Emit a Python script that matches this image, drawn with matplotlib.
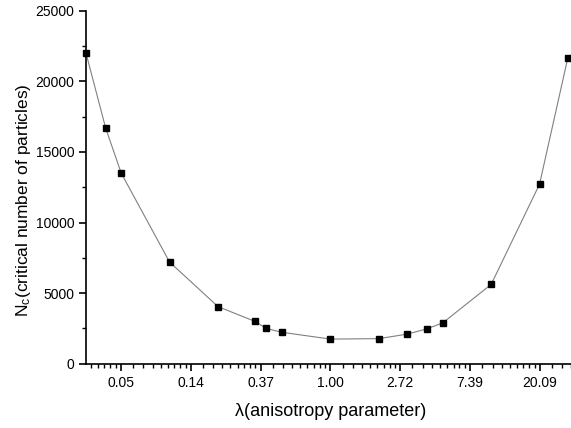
import numpy as np
import matplotlib
matplotlib.use('Agg')
import matplotlib.pyplot as plt
from matplotlib.ticker import LogLocator, FuncFormatter, MultipleLocator, NullFormatter

plt.rcParams['font.family'] = ['Liberation Sans', 'DejaVu Sans']
plt.rcParams['mathtext.fontset'] = 'custom'
plt.rcParams['mathtext.rm'] = 'Liberation Sans'
plt.rcParams['mathtext.default'] = 'regular'

# data
lam = [0.0302, 0.04, 0.05, 0.1, 0.2, 0.34, 0.4, 0.5, 1, 2, 3, 4, 5, 10, 20, 30]
nc = [22000, 16700, 13500, 7200, 4050, 3000, 2500, 2230, 1750, 1780,
      2100, 2480, 2900, 5620, 12720, 21680]

fig = plt.figure(figsize=(5.71, 4.28), dpi=100)
ax = fig.add_axes([0.1506, 0.150, 0.856, 0.825])

ax.plot(lam, nc, color='#808080', lw=0.8, zorder=1)
ax.plot(lam, nc, 's', color='black', ms=5, zorder=2, clip_on=False)

ax.set_xscale('log', base=np.e)
ax.set_xlim(np.exp(-3.5), np.exp(3.5))
ax.set_ylim(0, 25000)

ax.xaxis.set_major_locator(LogLocator(base=np.e))
ax.xaxis.set_major_formatter(FuncFormatter(lambda v, p: f"{v:.2f}"))
subs = 1 + (np.e - 1) * np.arange(1, 9) / 9
ax.xaxis.set_minor_locator(LogLocator(base=np.e, subs=subs, numticks=50))
ax.xaxis.set_minor_formatter(NullFormatter())

ax.yaxis.set_major_locator(MultipleLocator(5000))
ax.yaxis.set_minor_locator(MultipleLocator(2500))

for s in ['top', 'right']:
    ax.spines[s].set_visible(False)
for s in ['left', 'bottom']:
    ax.spines[s].set_linewidth(1.2)

ax.tick_params(which='major', direction='out', length=5, width=1.2, labelsize=10)
ax.tick_params(which='minor', direction='out', length=3, width=1.0)

ax.set_xlabel('λ(anisotropy parameter)', fontsize=13, labelpad=10)
ax.set_ylabel('N$_c$(critical number of particles)', fontsize=12.5)
ax.yaxis.set_label_coords(-0.108, 0.463)

fig.savefig('out.png', dpi=100)
